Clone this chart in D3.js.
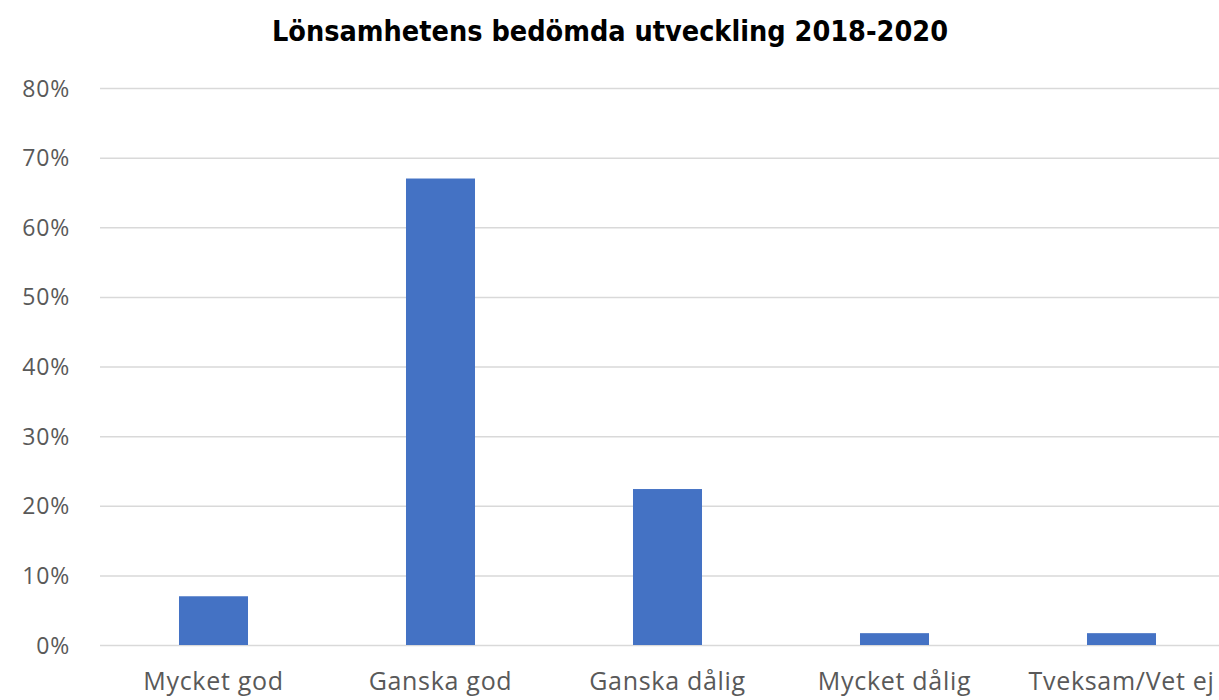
<!DOCTYPE html>
<html>
<head>
<meta charset="utf-8">
<script src="https://cdn.jsdelivr.net/npm/d3@7"></script>
<style>
  html, body { margin: 0; padding: 0; background: #fff; }
  svg { display: block; }
</style>
</head>
<body>
<svg id="chart" width="1219" height="700"></svg>
<script>
// Response categories and shares (fraction of respondents)
const categories = ["Mycket god", "Ganska god", "Ganska dålig", "Mycket dålig", "Tveksam/Vet ej"];
const shares = [0.07, 0.67, 0.224, 0.017, 0.017];
const yTicks = [0, 0.1, 0.2, 0.3, 0.4, 0.5, 0.6, 0.7, 0.8];
const title = "Lönsamhetens bedömda utveckling 2018-2020";

const svg = d3.select("#chart");
const W = 1219, H = 700;

const plot = { left: 100, right: 1235, top: 88, bottom: 645 };

const x = d3.scaleBand()
  .domain(categories)
  .range([plot.left, plot.right])
  .paddingInner(0.696)
  .paddingOuter(0.348);

const y = d3.scaleLinear()
  .domain([0, 0.8])
  .range([plot.bottom, plot.top]);

// Title
svg.append("text")
  .attr("x", 610)
  .attr("y", 41)
  .attr("text-anchor", "middle")
  .attr("font-family", "'Liberation Sans Narrow', 'DejaVu Sans Condensed', 'Liberation Sans', sans-serif")
  .attr("font-weight", "bold")
  .attr("font-size", 29)
  .attr("fill", "#000")
  .attr("textLength", 676)
  .attr("lengthAdjust", "spacingAndGlyphs")
  .text(title);

// Gridlines and y axis labels
const yAxis = d3.axisLeft(y)
  .tickValues(yTicks)
  .tickSize(-(W - plot.left))
  .tickPadding(30)
  .tickFormat(d3.format(".0%"));

const gy = svg.append("g")
  .attr("transform", `translate(${plot.left},0)`)
  .call(yAxis);
gy.select(".domain").remove();
gy.selectAll(".tick line")
  .attr("stroke", "#d9d9d9")
  .attr("stroke-width", 1.5);
gy.selectAll(".tick text")
  .attr("fill", "#595959")
  .attr("font-family", "'Open Sans', 'Liberation Sans', sans-serif")
  .attr("font-size", 23)
  .attr("letter-spacing", 0.8)
  .attr("dy", "0.35em");

// Bars
svg.append("g")
  .selectAll("rect")
  .data(categories.map((c, i) => ({ c, v: shares[i] })))
  .join("rect")
  .attr("x", d => x(d.c))
  .attr("y", d => y(d.v))
  .attr("width", x.bandwidth())
  .attr("height", d => y(0) - y(d.v))
  .attr("fill", "#4472c4");

// Category labels
const xAxis = d3.axisBottom(x).tickSize(0).tickPadding(0);
const gx = svg.append("g")
  .attr("transform", `translate(0,${plot.bottom})`)
  .call(xAxis);
gx.select(".domain").remove();
gx.selectAll(".tick text")
  .attr("fill", "#595959")
  .attr("font-family", "'Open Sans', 'Liberation Sans', sans-serif")
  .attr("font-size", 25)
  .attr("dy", 0)
  .attr("y", 45)
  .attr("letter-spacing", 0.7);
</script>
</body>
</html>
